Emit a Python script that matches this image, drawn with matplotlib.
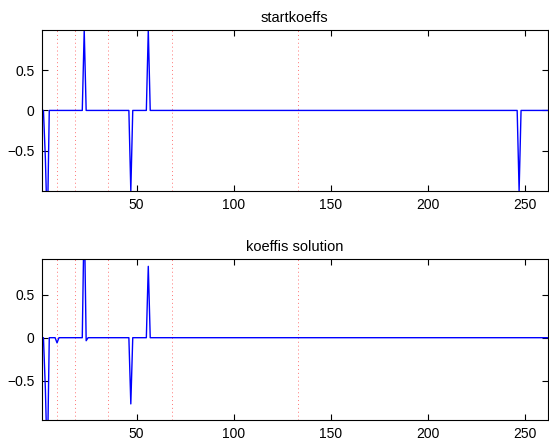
import numpy as np
import matplotlib.pyplot as plt

plt.rcParams['font.family'] = ['Liberation Sans', 'DejaVu Sans']

n_coeffs = 262
# band boundaries of the decomposition (dotted lines)
bounds = [9, 18, 35, 68, 133, 262]

# nonzero coefficients: index (1-based) and value
start_idx = [3, 4, 23, 47, 56, 247]
start_val = [-0.6, -1.5, 1.0, -1.0, 1.0, -1.0]

sol_idx = [3, 4, 9, 23, 24, 47, 56]
sol_val = [-0.6, -1.5, -0.06, 1.5, -0.035, -0.77, 0.83]

titles = ['startkoeffs', 'koeffis solution']
ylims = [(-1.0, 0.995), (-0.957, 0.912)]


def make_series(idx, val):
    y = np.zeros(n_coeffs)
    y[np.array(idx) - 1] = val
    return y


x = np.arange(1, n_coeffs + 1)
series = [make_series(start_idx, start_val), make_series(sol_idx, sol_val)]

fig = plt.figure(figsize=(5.49, 4.42), dpi=100)
positions = [[0.0756, 0.5679, 0.923, 0.3636], [0.0756, 0.0498, 0.923, 0.3636]]

for pos, y, title, yl in zip(positions, series, titles, ylims):
    ax = fig.add_axes(pos)
    for b in bounds:
        ax.axvline(b, color='#ff5050', linestyle=(0, (1, 3)), linewidth=0.7, alpha=0.8)
    ax.plot(x, y, color='#0000ff', linewidth=1.0)
    ax.set_xlim(1, n_coeffs)
    ax.set_ylim(*yl)
    ax.set_xticks([50, 100, 150, 200, 250])
    ax.set_yticks([-0.5, 0, 0.5])
    ax.set_yticklabels(['\u22120.5', '0', '0.5'])
    ax.tick_params(direction='in', top=True, right=True, length=4, width=0.8,
                   labelsize=10, pad=5)
    for s in ax.spines.values():
        s.set_linewidth(0.8)
    ax.set_title(title, fontsize=10.5, pad=6)

fig.savefig('out.png', dpi=100)
